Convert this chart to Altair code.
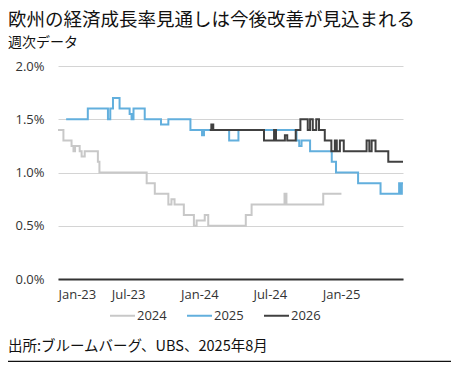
import altair as alt
import pandas as pd

title_text = "欧州の経済成長率見通しは今後改善が見込まれる"
subtitle_text = "週次データ"
source_text = "出所:ブルームバーグ、UBS、2025年8月"

series_names = ["2024", "2025", "2026"]
series_colors = ["#c8c8c8", "#62afdd", "#404040"]

# change points (step series)
dates_2024 = ["2023-01-01", "2023-01-15", "2023-02-05", "2023-02-10", "2023-02-14", "2023-02-26",
              "2023-03-03", "2023-03-11", "2023-04-14", "2023-04-18", "2023-08-18", "2023-09-08",
              "2023-10-13", "2023-10-21", "2023-10-29", "2023-11-22", "2023-12-18", "2023-12-25",
              "2024-01-15", "2024-01-24", "2024-04-30", "2024-05-15", "2024-08-08", "2024-08-13",
              "2024-11-16", "2025-01-02"]
values_2024 = [1.4, 1.3, 1.25, 1.2, 1.25, 1.2,
               1.15, 1.2, 1.1, 1.0, 0.9, 0.8,
               0.7, 0.75, 0.7, 0.6, 0.5, 0.55,
               0.6, 0.5, 0.6, 0.7, 0.8, 0.7,
               0.8, 0.8]

dates_2025 = ["2023-01-22", "2023-03-19", "2023-05-10", "2023-05-16", "2023-05-23", "2023-06-09",
              "2023-07-05", "2023-07-10", "2023-07-15", "2023-08-13", "2023-09-24", "2023-10-13",
              "2023-12-09", "2024-01-08", "2024-01-13", "2024-03-18", "2024-04-11", "2024-09-08",
              "2024-09-15", "2024-09-21", "2024-10-13", "2024-12-08", "2024-12-19", "2025-02-14",
              "2025-04-13", "2025-05-31", "2025-06-04", "2025-06-07", "2025-06-10"]
values_2025 = [1.5, 1.6, 1.5, 1.6, 1.7, 1.6,
               1.55, 1.5, 1.6, 1.5, 1.45, 1.5,
               1.4, 1.35, 1.4, 1.3, 1.4, 1.3,
               1.25, 1.3, 1.2, 1.1, 1.0, 0.9,
               0.8, 0.9, 0.8, 0.9, 0.9]

dates_2026 = ["2024-01-28", "2024-02-01", "2024-02-06", "2024-06-16", "2024-07-12", "2024-07-17",
              "2024-08-09", "2024-08-15", "2024-09-06", "2024-09-18", "2024-10-07", "2024-10-13",
              "2024-10-20", "2024-10-29", "2024-11-05", "2024-11-20", "2024-12-07", "2024-12-16",
              "2024-12-21", "2024-12-29", "2025-01-08", "2025-03-08", "2025-03-15", "2025-03-21",
              "2025-03-31", "2025-05-03", "2025-06-10"]
values_2026 = [1.4, 1.45, 1.4, 1.3, 1.4, 1.3,
               1.35, 1.3, 1.4, 1.5, 1.4, 1.5,
               1.4, 1.5, 1.4, 1.3, 1.2, 1.3,
               1.2, 1.3, 1.2, 1.3, 1.2, 1.3,
               1.2, 1.1, 1.1]

y_ticks = [0, 0.5, 1.0, 1.5, 2.0]
x_ticks = ["2023-01-01", "2023-07-01", "2024-01-01", "2024-07-01", "2025-01-01"]
x_domain = ["2023-01-01", "2025-06-10"]

frames = []
for name, d, v in [("2024", dates_2024, values_2024), ("2025", dates_2025, values_2025),
                   ("2026", dates_2026, values_2026)]:
    frames.append(pd.DataFrame({"date": d, "value": v, "series": name}))
df = pd.concat(frames, ignore_index=True)


def dt(s):
    y, m, dd = [int(p) for p in s.split("-")]
    return alt.DateTime(year=y, month=m, date=dd, utc=True)


W, H = 345, 213
PL, PT = 50, 58

lines = alt.Chart(df).mark_line(interpolate="step-after", strokeWidth=2).encode(
    x=alt.X("date:T",
            scale=alt.Scale(type="utc", domain=[dt(x_domain[0]), dt(x_domain[1])], nice=False),
            axis=alt.Axis(values=[dt(t) for t in x_ticks], labelExpr="utcFormat(datum.value, '%b-%y')",
                          title=None, grid=False, ticks=False, domainColor="#333333", domainWidth=2,
                          labelPadding=9, labelFontSize=13, labelFont="Open Sans", labelColor="#333333")),
    y=alt.Y("value:Q", scale=alt.Scale(domain=[0, 2]),
            axis=alt.Axis(values=y_ticks, labelExpr="format(datum.value, '.1f') + '%'",
                          title=None, domain=False, ticks=False, gridColor="#d4d4d4", gridWidth=1,
                          labelPadding=14, labelFontSize=13, labelFont="Open Sans", labelColor="#333333")),
    color=alt.Color("series:N", scale=alt.Scale(domain=series_names, range=series_colors),
                    legend=alt.Legend(orient="none", legendX=51, legendY=236, direction="horizontal",
                                      title=None, symbolType="stroke", symbolSize=625,
                                      symbolStrokeWidth=2, labelFontSize=13, labelFont="Open Sans",
                                      labelColor="#333333", labelOffset=1, columnPadding=16)),
    order=alt.Order("series:N"),
)

title = alt.Chart(pd.DataFrame({"t": [title_text]})).mark_text(
    align="left", baseline="middle", fontSize=18.5, font="DejaVu Sans, Noto Sans CJK JP", color="#111111"
).encode(x=alt.value(-PL), y=alt.value(-46.5), text="t:N")

subtitle = alt.Chart(pd.DataFrame({"t": [subtitle_text]})).mark_text(
    align="left", baseline="middle", fontSize=14, font="Noto Sans CJK JP", color="#111111"
).encode(x=alt.value(-PL), y=alt.value(-23), text="t:N")

source = alt.Chart(pd.DataFrame({"t": [source_text]})).mark_text(
    align="left", baseline="middle", fontSize=14.5, font="Noto Sans CJK JP", color="#111111"
).encode(x=alt.value(-PL), y=alt.value(281), text="t:N")

bottom_rule = alt.Chart(pd.DataFrame({"a": [0]})).mark_rule(color="#111111", strokeWidth=1.5).encode(
    x=alt.value(-PL), x2=alt.value(393), y=alt.value(295.5))

chart = alt.layer(lines, title, subtitle, source, bottom_rule).properties(
    width=W, height=H,
    padding={"left": PL, "top": PT, "right": 48, "bottom": 83},
    autosize=alt.AutoSizeParams(type="none"),
).configure_view(stroke=None)

chart.save("out.html", embed_options={"renderer": "svg", "actions": False})
